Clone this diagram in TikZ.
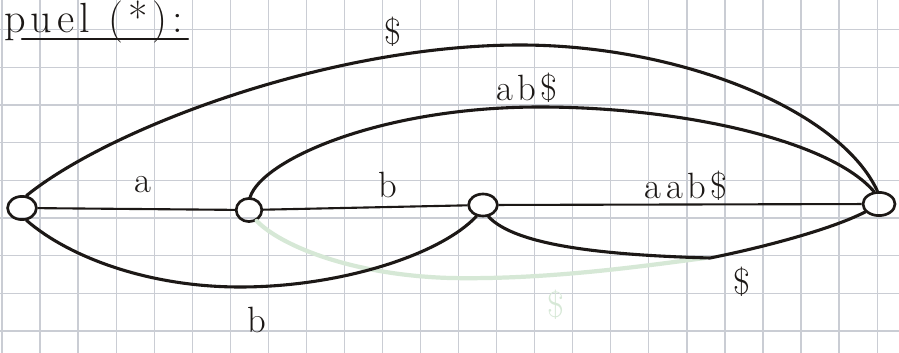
\documentclass[tikz,border=0pt]{standalone}
\usepackage{fontspec}
\setmainfont{Latin Modern Roman}
\newfontfamily\handfont{Latin Modern Roman}[LetterSpace=12]
\usetikzlibrary{shapes.geometric}
\definecolor{gridc}{RGB}{202,205,212}
\definecolor{inkc}{RGB}{28,24,22}
\definecolor{fadec}{RGB}{214,232,214}
\tikzset{
  vtx/.style={ellipse, draw=inkc, line width=1.9pt, inner sep=0pt, minimum width=0.72cm, minimum height=0.58cm},
  edgeline/.style={draw=inkc, line width=1.5pt},
  arcline/.style={draw=inkc, line width=2.2pt, line cap=round},
  lbl/.style={text=inkc, font=\handfont\fontsize{26}{30}\selectfont, inner sep=0pt},
  titlelbl/.style={text=inkc, font=\handfont\fontsize{30}{34}\selectfont, inner sep=0pt},
  fadeline/.style={draw=fadec, line width=3pt, line cap=round},
  fadelbl/.style={text=fadec, font=\handfont\fontsize{26}{30}\selectfont, inner sep=0pt},
  gridline/.style={draw=gridc, line width=0.9pt}
}
\begin{document}
\begin{tikzpicture}[x=0.025cm,y=-0.025cm]
\fill[white] (0,0) rectangle (899,353);
\useasboundingbox (0,0) rectangle (899,353);
% squared paper
\foreach \i in {0,...,23} \draw[gridline] ({2+38.05*\i},0) -- ({2+38.05*\i},353);
\foreach \j in {0,...,8} \draw[gridline] (0,{29.5+37.7*\j}) -- (899,{29.5+37.7*\j});

% title
\node[titlelbl, anchor=base west] (title) at (4,33) {puel (*):};
\draw[arcline, line width=1.6pt] (22,39) -- (188,39);

% vertices
\node[vtx, minimum width=0.72cm] (n1) at (22,208) {};
\node[vtx, minimum width=0.64cm] (n2) at (249,210) {};
\node[vtx, minimum width=0.72cm, minimum height=0.55cm] (n3) at (483,205) {};
\node[vtx, minimum width=0.8cm] (n4) at (879,204) {};

% straight edges
\draw[edgeline] (n1) -- (n2);
\draw[edgeline] (n2) -- (n3);
\draw[edgeline] (n3) -- (n4);

% faint erased edge
\coordinate (fe) at (705,258);
\draw[fadeline] (n2.-55) .. controls (280,245) and (350,275) .. (450,278)
  .. controls (550,280) and (650,265) .. (fe);
\node[fadelbl] (lfade) at (556,305) {\$};

% top arc $
\draw[arcline] (n1.70) .. controls (110,128) and (330,45) .. (520,45)
  .. controls (680,45) and (840,110) .. (n4.97);
% arc ab$
\draw[arcline] (n2.85) .. controls (262,160) and (380,107) .. (540,107)
  .. controls (680,107) and (830,140) .. (n4.112);
% bottom arc b
\draw[arcline] (n1.-70) .. controls (70,258) and (150,287) .. (240,287)
  .. controls (340,287) and (440,255) .. (n3.-120);
% arc $ from n3 to n4
\draw[arcline] (n3.-65) .. controls (515,245) and (600,255) .. (710,258)
  .. controls (760,248) and (830,230) .. (n4.-150);

% labels
\node[lbl] (ltop) at (393,32) {\$};
\node[lbl] (lab) at (527,88) {ab\$};
\node[lbl] (la) at (143,185) {a};
\node[lbl] (lb) at (388,185) {b};
\node[lbl] (laab) at (686,186) {aab\$};
\node[lbl] (lbb) at (257,320) {b};
\node[lbl] (ld) at (742,282) {\$};
\end{tikzpicture}
\end{document}
